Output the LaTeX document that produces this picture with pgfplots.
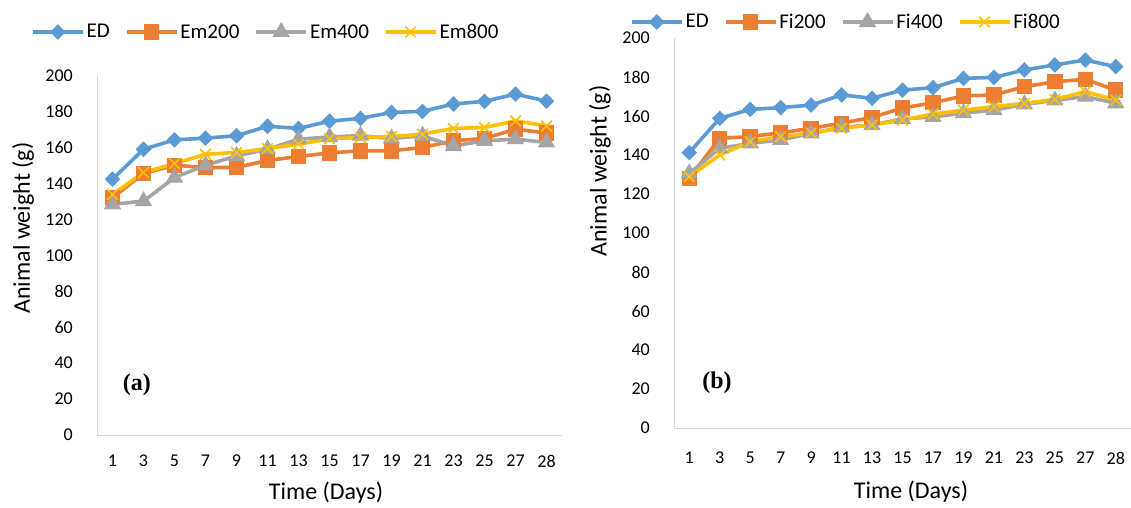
\documentclass[border=0pt]{standalone}
\usepackage{pgfplots}
\pgfplotsset{compat=1.18}
\usepackage{fontspec}
\setmainfont{Carlito}
\newfontfamily\tnr{Liberation Serif}
\definecolor{cED}{HTML}{5B9BD5}
\definecolor{cA}{HTML}{ED7D31}
\definecolor{cB}{HTML}{A5A5A5}
\definecolor{cC}{HTML}{FFC000}

\pgfplotsset{
  panel/.style={
    scale only axis, clip=false,
    xmin=-0.5, xmax=14.5, ymin=0, ymax=200,
    xtick={0,...,14},
    xticklabels={1,3,5,7,9,11,13,15,17,19,21,23,25,27,28},
    ytick={0,20,...,200},
    axis x line*=bottom, axis y line*=left,
    axis line style={draw=black!15, line width=1pt},
    major tick length=0pt,
    tick label style={font=\fontsize{18}{20}\selectfont, inner sep=0pt},
    /pgf/number format/assume math mode=true,
    yticklabel style={anchor=east, xshift=-24pt},
    label style={font=\fontsize{24}{28}\selectfont},
    legend style={draw=none, fill=none, legend columns=-1,
      font=\fontsize{21}{24}\selectfont, anchor=center,
      /tikz/every even column/.append style={column sep=13pt}},
    legend image code/.code={\draw[mark repeat=2,mark phase=2]
      plot coordinates {(0pt,0pt) (25pt,0pt) (50pt,0pt)};},
  },
  sED/.style={color=cED, line width=3.6pt, mark=square*, mark size=5pt,
    mark options={rotate=45, line width=1pt}},
  sA/.style={color=cA, line width=3.6pt, mark=square*, mark size=7.2pt,
    mark options={line width=1pt}},
  sB/.style={color=cB, line width=3.6pt, mark=triangle*, mark size=9pt,
    mark options={line width=1pt}},
  sC/.style={color=cC, line width=3.6pt, mark=x, mark size=7.5pt,
    mark options={line width=1.6pt}},
}

\begin{document}
\begin{tikzpicture}
\useasboundingbox (0,0) rectangle (1131pt,507pt);

% panel (a)
\begin{axis}[panel,
  at={(97pt,72pt)}, anchor=south west, width=465pt, height=359pt,
  xticklabel style={anchor=center, yshift=-26pt},
  xlabel={Time (Days)}, ylabel={Animal weight (g)},
  xlabel style={at={(axis description cs:0.4925,-0.1616)}, anchor=center},
  ylabel style={at={(axis description cs:-0.159,0.5766)}, anchor=center},
  legend style={at={(axis description cs:0.363,1.1226)}},
]
\addplot[sED] coordinates {(0,142.5) (1,159.2) (2,164.4) (3,165.4) (4,166.7) (5,172.0) (6,170.8) (7,174.8) (8,176.4) (9,179.7) (10,180.3) (11,184.4) (12,185.9) (13,189.9) (14,186.0)};
\addplot[sA] coordinates {(0,132.2) (1,145.6) (2,150.3) (3,149.0) (4,149.0) (5,153.0) (6,155.1) (7,157.2) (8,158.3) (9,158.3) (10,160.2) (11,163.9) (12,165.2) (13,170.4) (14,168.2)};
\addplot[sB] coordinates {(0,128.5) (1,130.3) (2,143.4) (3,150.3) (4,155.5) (5,159.2) (6,164.8) (7,166.0) (8,166.8) (9,165.2) (10,166.7) (11,161.0) (12,163.9) (13,164.8) (14,163.0)};
\addplot[sC] coordinates {(0,134.0) (1,146.2) (2,151.2) (3,156.4) (4,157.4) (5,159.6) (6,162.0) (7,165.0) (8,165.7) (9,166.3) (10,167.6) (11,170.8) (12,171.3) (13,175.0) (14,172.2)};
\legend{ED,Em200,Em400,Em800}
\node[font=\tnr\bfseries\fontsize{24}{26}\selectfont] at (rel axis cs:0.086,0.139) {(a)};
\end{axis}

% panel (b)
\begin{axis}[panel,
  at={(674pt,79pt)}, anchor=south west, width=457pt, height=390pt,
  xticklabel style={anchor=center, yshift=-30pt},
  xlabel={Time (Days)}, ylabel={Animal weight (g)},
  xlabel style={at={(axis description cs:0.5186,-0.164)}, anchor=center},
  ylabel style={at={(axis description cs:-0.162,0.659)}, anchor=center},
  legend style={at={(axis description cs:0.376,1.041)}},
]
\addplot[sED] coordinates {(0,141.2) (1,158.8) (2,163.4) (3,164.3) (4,165.6) (5,170.8) (6,169.1) (7,173.3) (8,174.5) (9,179.3) (10,179.8) (11,183.6) (12,186.2) (13,188.7) (14,185.3)};
\addplot[sA] coordinates {(0,128.0) (1,148.6) (2,149.4) (3,151.4) (4,153.7) (5,156.3) (6,159.3) (7,164.1) (8,166.8) (9,170.3) (10,170.8) (11,175.0) (12,177.6) (13,178.8) (14,173.3)};
\addplot[sB] coordinates {(0,130.6) (1,143.4) (2,146.0) (3,147.7) (4,151.1) (5,154.2) (6,155.4) (7,158.5) (8,159.5) (9,161.5) (10,163.0) (11,166.0) (12,168.0) (13,170.0) (14,166.5)};
\addplot[sC] coordinates {(0,128.9) (1,140.0) (2,146.8) (3,149.4) (4,151.4) (5,153.7) (6,155.4) (7,157.9) (8,161.0) (9,163.0) (10,164.8) (11,166.5) (12,168.5) (13,172.5) (14,168.2)};
\legend{ED,Fi200,Fi400,Fi800}
\node[font=\tnr\bfseries\fontsize{24}{26}\selectfont] at (rel axis cs:0.094,0.115) {(b)};
\end{axis}
\end{tikzpicture}
\end{document}
